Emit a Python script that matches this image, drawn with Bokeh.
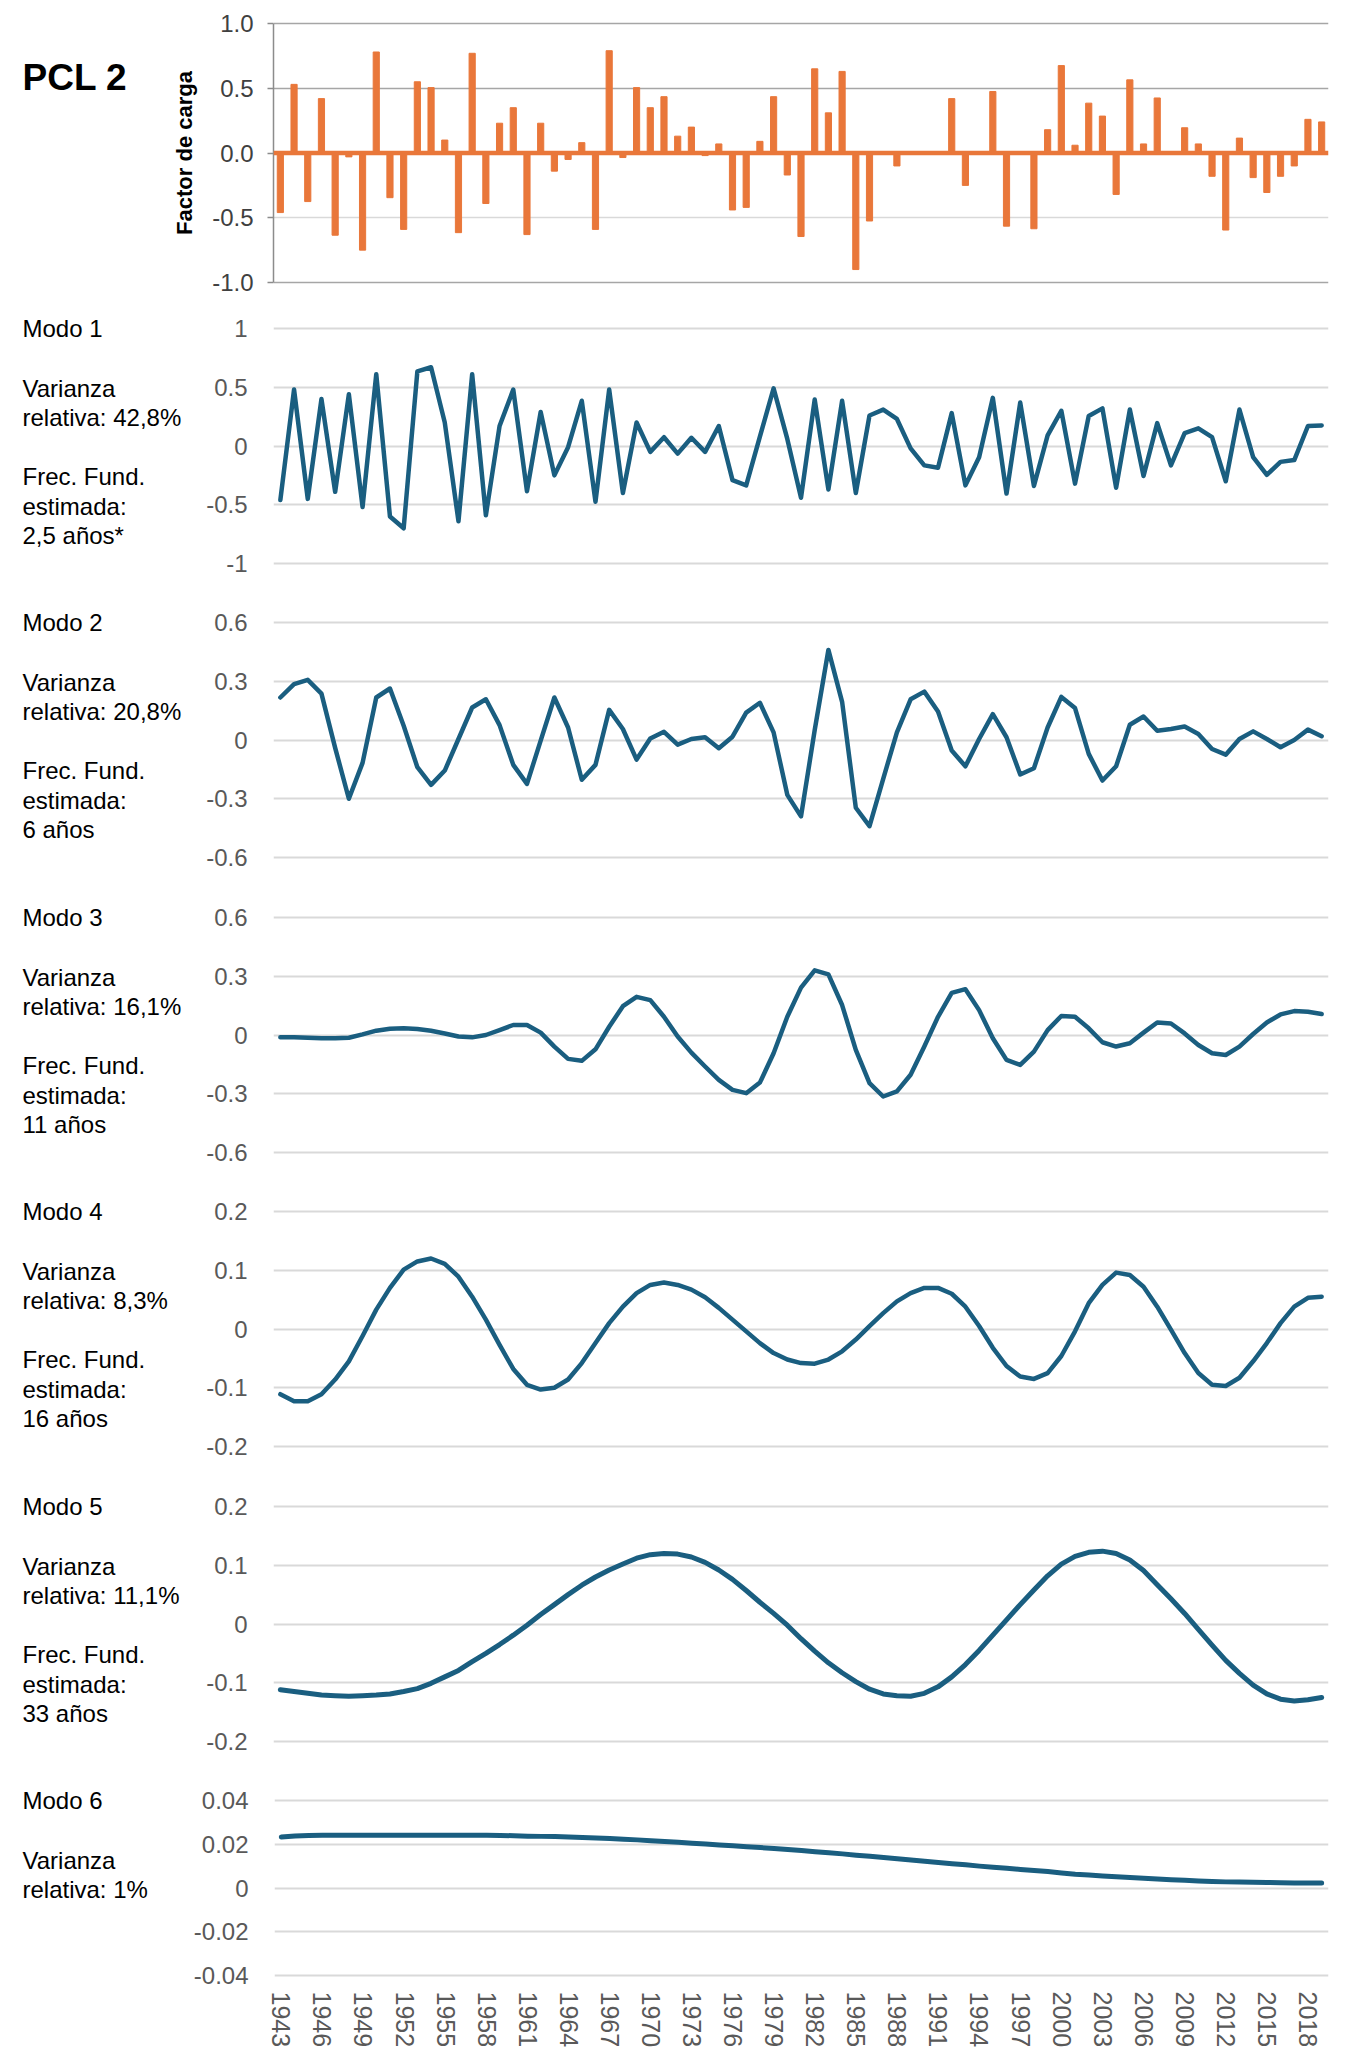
from bokeh.plotting import figure
from bokeh.models import Range1d, FixedTicker, NumeralTickFormatter, Label, Span, Grid
from bokeh.layouts import column, row
from bokeh.embed import file_html
from bokeh.resources import INLINE

# ---------------- data ----------------
years = list(range(1943, 2020))

pcl2_loadings = [
    -0.46, 0.53, -0.375, 0.42, -0.635, -0.03, -0.75, 0.78, -0.345, -0.59,
    0.55, 0.505, 0.10, -0.615, 0.77, -0.39, 0.23, 0.35, -0.63, 0.23,
    -0.14, -0.05, 0.08, -0.59, 0.79, -0.035, 0.505, 0.35, 0.435, 0.13,
    0.20, -0.02, 0.07, -0.44, -0.42, 0.09, 0.435, -0.17, -0.645, 0.65,
    0.31, 0.63, -0.90, -0.525, 0.0, -0.10, 0.0, 0.0, 0.0, 0.42,
    -0.25, 0.0, 0.475, -0.565, -0.01, -0.585, 0.18, 0.675, 0.06, 0.385,
    0.285, -0.32, 0.565, 0.07, 0.425, 0.0, 0.195, 0.07, -0.18, -0.595,
    0.115, -0.19, -0.305, -0.18, -0.10, 0.26, 0.24]

modo1 = [
    -0.46, 0.48, -0.45, 0.40, -0.39, 0.44, -0.52, 0.61, -0.60, -0.70,
    0.635, 0.67, 0.20, -0.64, 0.61, -0.59, 0.17, 0.48, -0.385, 0.29,
    -0.25, -0.01, 0.385, -0.475, 0.48, -0.40, 0.20, -0.05, 0.075, -0.065,
    0.07, -0.05, 0.17, -0.29, -0.335, 0.08, 0.49, 0.06, -0.44, 0.395,
    -0.37, 0.385, -0.40, 0.26, 0.31, 0.23, -0.02, -0.165, -0.185, 0.28,
    -0.335, -0.095, 0.41, -0.405, 0.37, -0.34, 0.09, 0.30, -0.32, 0.255,
    0.32, -0.355, 0.31, -0.255, 0.195, -0.165, 0.11, 0.15, 0.075, -0.30,
    0.31, -0.095, -0.245, -0.135, -0.12, 0.17, 0.175]

modo2 = [
    0.217, 0.285, 0.307, 0.237, -0.04, -0.30, -0.117, 0.217, 0.263, 0.073,
    -0.139, -0.229, -0.156, 0.005, 0.166, 0.208, 0.076, -0.127, -0.224, -0.003,
    0.217, 0.064, -0.203, -0.127, 0.154, 0.056, -0.10, 0.008, 0.042, -0.024,
    0.005, 0.014, -0.042, 0.017, 0.14, 0.19, 0.039, -0.28, -0.39, 0.05,
    0.46, 0.195, -0.346, -0.44, -0.198, 0.039, 0.208, 0.247, 0.146, -0.054,
    -0.134, 0.005, 0.132, 0.014, -0.176, -0.144, 0.064, 0.22, 0.163, -0.071,
    -0.207, -0.134, 0.078, 0.12, 0.047, 0.056, 0.069, 0.031, -0.046, -0.075,
    0.005, 0.044, 0.005, -0.037, 0.0, 0.053, 0.019]

modo3 = [
    -0.012, -0.012, -0.014, -0.017, -0.017, -0.014, 0.003, 0.022, 0.032, 0.034,
    0.031, 0.022, 0.008, -0.008, -0.012, 0.0, 0.025, 0.051, 0.051, 0.012,
    -0.059, -0.122, -0.132, -0.073, 0.042, 0.147, 0.195, 0.178, 0.093, -0.008,
    -0.09, -0.161, -0.229, -0.28, -0.297, -0.243, -0.093, 0.093, 0.242, 0.33,
    0.31, 0.153, -0.076, -0.246, -0.314, -0.288, -0.203, -0.059, 0.093, 0.215,
    0.234, 0.127, -0.017, -0.127, -0.153, -0.085, 0.025, 0.097, 0.093, 0.034,
    -0.037, -0.059, -0.042, 0.012, 0.064, 0.059, 0.008, -0.051, -0.093, -0.102,
    -0.059, 0.005, 0.064, 0.105, 0.122, 0.119, 0.107]

modo4 = [
    -0.111, -0.123, -0.123, -0.111, -0.086, -0.055, -0.012, 0.033, 0.070, 0.101,
    0.115, 0.120, 0.111, 0.089, 0.055, 0.016, -0.027, -0.068, -0.095, -0.103,
    -0.100, -0.086, -0.058, -0.024, 0.010, 0.038, 0.061, 0.075, 0.079, 0.075,
    0.067, 0.054, 0.036, 0.016, -0.004, -0.024, -0.041, -0.052, -0.058, -0.059,
    -0.052, -0.038, -0.018, 0.005, 0.027, 0.047, 0.061, 0.070, 0.070, 0.060,
    0.038, 0.005, -0.032, -0.063, -0.081, -0.085, -0.075, -0.046, -0.004, 0.044,
    0.075, 0.096, 0.092, 0.072, 0.038, -0.001, -0.041, -0.075, -0.095, -0.097,
    -0.083, -0.055, -0.024, 0.010, 0.038, 0.053, 0.055]

modo5 = [
    -0.112, -0.115, -0.118, -0.121, -0.122, -0.123, -0.122, -0.121, -0.119, -0.115,
    -0.110, -0.101, -0.090, -0.079, -0.064, -0.050, -0.035, -0.019, -0.002, 0.016,
    0.033, 0.050, 0.066, 0.080, 0.092, 0.102, 0.112, 0.118, 0.120, 0.119,
    0.114, 0.105, 0.092, 0.076, 0.057, 0.037, 0.018, -0.002, -0.025, -0.046,
    -0.066, -0.083, -0.098, -0.111, -0.119, -0.122, -0.123, -0.118, -0.107, -0.090,
    -0.069, -0.045, -0.019, 0.007, 0.033, 0.058, 0.082, 0.102, 0.115, 0.122,
    0.124, 0.120, 0.109, 0.091, 0.067, 0.043, 0.018, -0.009, -0.036, -0.062,
    -0.084, -0.104, -0.119, -0.128, -0.131, -0.129, -0.125]

modo6 = [
    0.0233, 0.0238, 0.0240, 0.0241, 0.0241, 0.0241, 0.0241, 0.0241, 0.0241, 0.0241,
    0.0241, 0.0241, 0.0241, 0.0241, 0.0241, 0.0241, 0.0240, 0.0239, 0.0237, 0.0236,
    0.0235, 0.0233, 0.0231, 0.0229, 0.0226, 0.0223, 0.0220, 0.0216, 0.0213, 0.0209,
    0.0205, 0.0201, 0.0197, 0.0193, 0.0189, 0.0185, 0.0181, 0.0176, 0.0171, 0.0166,
    0.0161, 0.0156, 0.0150, 0.0145, 0.0139, 0.0134, 0.0128, 0.0122, 0.0117, 0.0111,
    0.0106, 0.0100, 0.0095, 0.0090, 0.0085, 0.0080, 0.0075, 0.0069, 0.0063, 0.0059,
    0.0055, 0.0051, 0.0048, 0.0045, 0.0041, 0.0038, 0.0035, 0.0032, 0.0030, 0.0028,
    0.0027, 0.0026, 0.0025, 0.0024, 0.0023, 0.0023, 0.0023]

x_label_years = list(range(1943, 2019, 3))

top_ticks = [-1.0, -0.5, 0.0, 0.5, 1.0]
ticks_m1 = [-1, -0.5, 0, 0.5, 1]
ticks_m23 = [-0.6, -0.3, 0, 0.3, 0.6]
ticks_m45 = [-0.2, -0.1, 0, 0.1, 0.2]
ticks_m6 = [-0.04, -0.02, 0, 0.02, 0.04]

mode_names = ["Modo 1", "Modo 2", "Modo 3", "Modo 4", "Modo 5", "Modo 6"]
varianza = ["relativa: 42,8%", "relativa: 20,8%", "relativa: 16,1%",
            "relativa: 8,3%", "relativa: 11,1%", "relativa: 1%"]
frecuencia = ["2,5 años*", "6 años", "11 años", "16 años", "33 años", None]

# ---------------- style / layout ----------------
FONT = "Liberation Sans"
ORANGE = "#E9773A"
BLUE = "#1A5E80"
GRID = "#d9d9d9"
TICK_COLOR = "#595959"
FRAME_LEFT = 273          # page x of the plotting frames
FRAME_W, RIGHT = 1055, 25
XR = (1942.5, 2019.5)


def make_fig(lo, hi, grid_top, grid_bottom, fig_top, fig_bottom, border_left,
             pad_top, pad_bottom, x_axis=False):
    frame_top = grid_top - pad_top
    frame_bottom = grid_bottom + pad_bottom
    upp = (hi - lo) / (grid_bottom - grid_top)
    p = figure(width=border_left + FRAME_W + RIGHT, height=fig_bottom - fig_top,
               min_border_left=border_left, min_border_right=RIGHT,
               min_border_top=frame_top - fig_top,
               min_border_bottom=fig_bottom - frame_bottom,
               x_range=Range1d(*XR),
               y_range=Range1d(lo - pad_bottom * upp, hi + pad_top * upp),
               x_axis_location="below" if x_axis else None,
               title=None, output_backend="svg", toolbar_location=None)
    p.outline_line_color = None
    p.background_fill_color = "white"
    p.border_fill_color = "white"
    p.xgrid.visible = False
    return p, frame_top, frame_bottom


def make_text_fig(width, fig_top, fig_bottom, frame_top, frame_bottom):
    t = figure(width=width, height=fig_bottom - fig_top,
               x_range=Range1d(0, width), y_range=Range1d(frame_bottom, frame_top),
               min_border_left=0, min_border_right=0,
               min_border_top=frame_top - fig_top,
               min_border_bottom=fig_bottom - frame_bottom,
               x_axis_location=None, y_axis_location=None,
               title=None, output_backend="svg", toolbar_location=None)
    t.outline_line_color = None
    t.background_fill_color = "white"
    t.border_fill_color = "white"
    t.xgrid.visible = False
    t.ygrid.visible = False
    return t


def style_mode_axis(p, ticks):
    ax = p.yaxis[0]
    ax.ticker = FixedTicker(ticks=ticks)
    ax.formatter = NumeralTickFormatter(format="0.[00]")
    ax.axis_line_color = None
    ax.major_tick_line_color = None
    ax.minor_tick_line_color = None
    ax.major_tick_out = 0
    ax.major_tick_in = 0
    ax.major_label_standoff = 26
    ax.major_label_text_font = FONT
    ax.major_label_text_font_size = "24px"
    ax.major_label_text_color = TICK_COLOR
    p.ygrid.grid_line_color = GRID
    p.ygrid.grid_line_width = 2


def add_text(t, txt, page_x, page_y, size="24px", bold=False):
    t.add_layout(Label(x=page_x, y=page_y, x_units="data", y_units="data", text=txt,
                       text_font=FONT, text_font_size=size,
                       text_font_style="bold" if bold else "normal",
                       text_color="#000000", text_baseline="middle", text_align="left"))


rows = []

# ---- top bar chart ----
TOP_TEXT_W = 150
p0, ft0, fb0 = make_fig(-1.0, 1.0, 23, 282, 0, 305, FRAME_LEFT - TOP_TEXT_W, 4, 4)
t0 = make_text_fig(TOP_TEXT_W, 0, 305, ft0, fb0)
add_text(t0, "PCL 2", 22, 77, size="37px", bold=True)
ax = p0.yaxis[0]
ax.ticker = FixedTicker(ticks=top_ticks)
ax.formatter = NumeralTickFormatter(format="0.0")
ax.bounds = (-1.0, 1.0)
ax.axis_line_color = "#8c8c8c"
ax.axis_line_width = 1.5
ax.major_tick_line_color = "#8c8c8c"
ax.major_tick_line_width = 1.5
ax.major_tick_out = 6
ax.major_tick_in = 0
ax.minor_tick_line_color = None
ax.major_label_standoff = 14
ax.major_label_text_font = FONT
ax.major_label_text_font_size = "24px"
ax.major_label_text_color = "#404040"
ax.axis_label = "Factor de carga"
ax.axis_label_text_font = FONT
ax.axis_label_text_font_size = "22px"
ax.axis_label_text_font_style = "bold"
ax.axis_label_text_color = "#000000"
ax.axis_label_standoff = 12
p0.ygrid.ticker = FixedTicker(ticks=[1.0, 0.5, -1.0])
p0.ygrid.grid_line_color = "#a6a6a6"
p0.ygrid.grid_line_width = 1.5
p0.add_layout(Grid(dimension=1, ticker=FixedTicker(ticks=[-0.5]),
                   grid_line_color=GRID, grid_line_width=1.5))
p0.vbar(x=years, top=pcl2_loadings, width=0.45, color=ORANGE)
p0.add_layout(Span(location=0, dimension="width", line_color=ORANGE, line_width=4.5))
rows.append(row(t0, p0, spacing=0))

# ---- mode panels ----
MODE_TEXT_W = 190
mode_series = [modo1, modo2, modo3, modo4, modo5, modo6]
mode_ticks = [ticks_m1, ticks_m23, ticks_m23, ticks_m45, ticks_m45, ticks_m6]
grid_tops = [328, 622, 917, 1211, 1506, 1800]
grid_heights = [235, 235, 235, 235, 235, 175]
fig_bounds = [(305, 592), (592, 887), (887, 1181), (1181, 1476), (1476, 1770), (1770, 2062)]
line_widths = [4.5, 4.5, 4.5, 4.5, 5, 5]
text_offsets = [0, 60, 89, 148, 178, 207]

for i in range(6):
    ticks = mode_ticks[i]
    last = (i == 5)
    gt = grid_tops[i]
    ftop, fbot = fig_bounds[i]
    p, frt, frb = make_fig(min(ticks), max(ticks), gt, gt + grid_heights[i], ftop, fbot,
                           FRAME_LEFT - MODE_TEXT_W, 16, 4, x_axis=last)
    t = make_text_fig(MODE_TEXT_W, ftop, fbot, frt, frb)
    style_mode_axis(p, ticks)
    p.line(years, mode_series[i], line_width=line_widths[i], color=BLUE,
           line_join="round", line_cap="round")
    lines = [mode_names[i], "Varianza", varianza[i]]
    if frecuencia[i] is not None:
        lines += ["Frec. Fund.", "estimada:", frecuencia[i]]
    for txt, off in zip(lines, text_offsets):
        add_text(t, txt, 22, gt + off)
    if last:
        xa = p.xaxis[0]
        xa.ticker = FixedTicker(ticks=x_label_years)
        xa.major_label_orientation = "vertical"
        xa.axis_line_color = None
        xa.major_tick_line_color = None
        xa.minor_tick_line_color = None
        xa.major_tick_out = 0
        xa.major_tick_in = 0
        xa.major_label_standoff = 12
        xa.major_label_text_font = FONT
        xa.major_label_text_font_size = "25px"
        xa.major_label_text_color = TICK_COLOR
    rows.append(row(t, p, spacing=0))

layout = column(*rows, spacing=0)
open("out.html", "w").write(file_html(layout, INLINE))
